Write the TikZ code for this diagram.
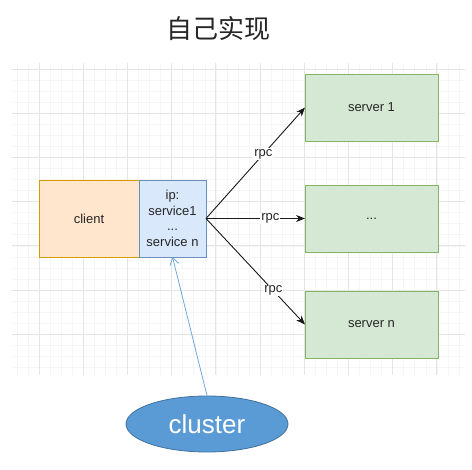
\documentclass[tikz,border=0pt]{standalone}
\usepackage{fontspec}
\setmainfont{Liberation Sans}
\newfontfamily\cjkfont{Noto Sans CJK SC}
\usetikzlibrary{positioning,shapes.geometric,arrows.meta}
\definecolor{clientfill}{HTML}{FFE6CC}
\definecolor{clientline}{HTML}{D79B00}
\definecolor{servicefill}{HTML}{DAE8FC}
\definecolor{serviceline}{HTML}{6C8EBF}
\definecolor{serverfill}{HTML}{D5E8D4}
\definecolor{serverline}{HTML}{82B366}
\definecolor{clusterfill}{HTML}{5B9BD5}
\definecolor{clusterline}{HTML}{41719C}
\definecolor{linkblue}{HTML}{6FA8DC}
\begin{document}
\begin{tikzpicture}[x=1pt,y=-1pt,
        every node/.style={font=\fontsize{13}{15.5}\selectfont,text=black!85},
        block/.style={draw,rectangle,inner sep=0pt,outer sep=0pt,line width=0.8pt},
        clientbox/.style={block,fill=clientfill,draw=clientline,minimum width=100pt,minimum height=77pt},
        servicebox/.style={block,fill=servicefill,draw=serviceline,minimum width=67pt,minimum height=77pt,align=center},
        serverbox/.style={block,fill=serverfill,draw=serverline,minimum width=133pt,minimum height=67pt},
        clusternode/.style={ellipse,draw=clusterline,fill=clusterfill,line width=0.8pt,minimum width=162pt,minimum height=56pt,text=white,font=\fontsize{26}{30}\selectfont},
        rpcline/.style={line width=0.9pt,black!90,-{Stealth[length=9pt,width=7pt]}},
        rpclabel/.style={fill=white,inner sep=1pt},
        minorline/.style={gray!7,line width=0.5pt},
        majorline/.style={gray!20,line width=0.7pt}]
   \fill[white] (0,0) rectangle (472,470);
   \useasboundingbox (0,0) rectangle (472,470);
   \begin{scope}
      \clip (12,63) rectangle (465,375);
      \foreach \i in {-3,...,38}
         \draw[minorline] ({39+\i*11.05},63) -- ({39+\i*11.05},375);
      \foreach \i in {-1,...,28}
         \draw[minorline] (12,{69+\i*11.05}) -- (465,{69+\i*11.05});
      \foreach \i in {-1,...,10}
         \draw[majorline] ({39+\i*44.2},63) -- ({39+\i*44.2},375);
      \foreach \i in {0,...,7}
         \draw[majorline] (12,{69+\i*44.2}) -- (465,{69+\i*44.2});
   \end{scope}

   \node (title) at (218,29) {\cjkfont\fontsize{26}{30}\selectfont 自己实现};

   \node (client) [clientbox] at (89,218.5) {client};
   \node (service) [servicebox,right=0pt of client] {ip:\\service1\\...\\service n};

   \node (server1) [serverbox] at (371.5,107.5) {server 1};
   \node (serverdots) [serverbox,below=44pt of server1] {...};
   \node (servern) [serverbox,below=39pt of serverdots] {server n};

   \node (cluster) [clusternode] at (207,424) {cluster};

   \draw[rpcline] (service.east) -- node[rpclabel,pos=0.58] {rpc} (server1.west);
   \draw[rpcline] (service.east) -- node[rpclabel,pos=0.65] {rpc} (serverdots.west);
   \draw[rpcline] (service.east) -- node[rpclabel,pos=0.68] {rpc} (servern.west);
   \draw[linkblue,line width=0.8pt,-{Straight Barb[length=7pt,width=9pt]}] (cluster.north) -- (service.south);
\end{tikzpicture}
\end{document}
